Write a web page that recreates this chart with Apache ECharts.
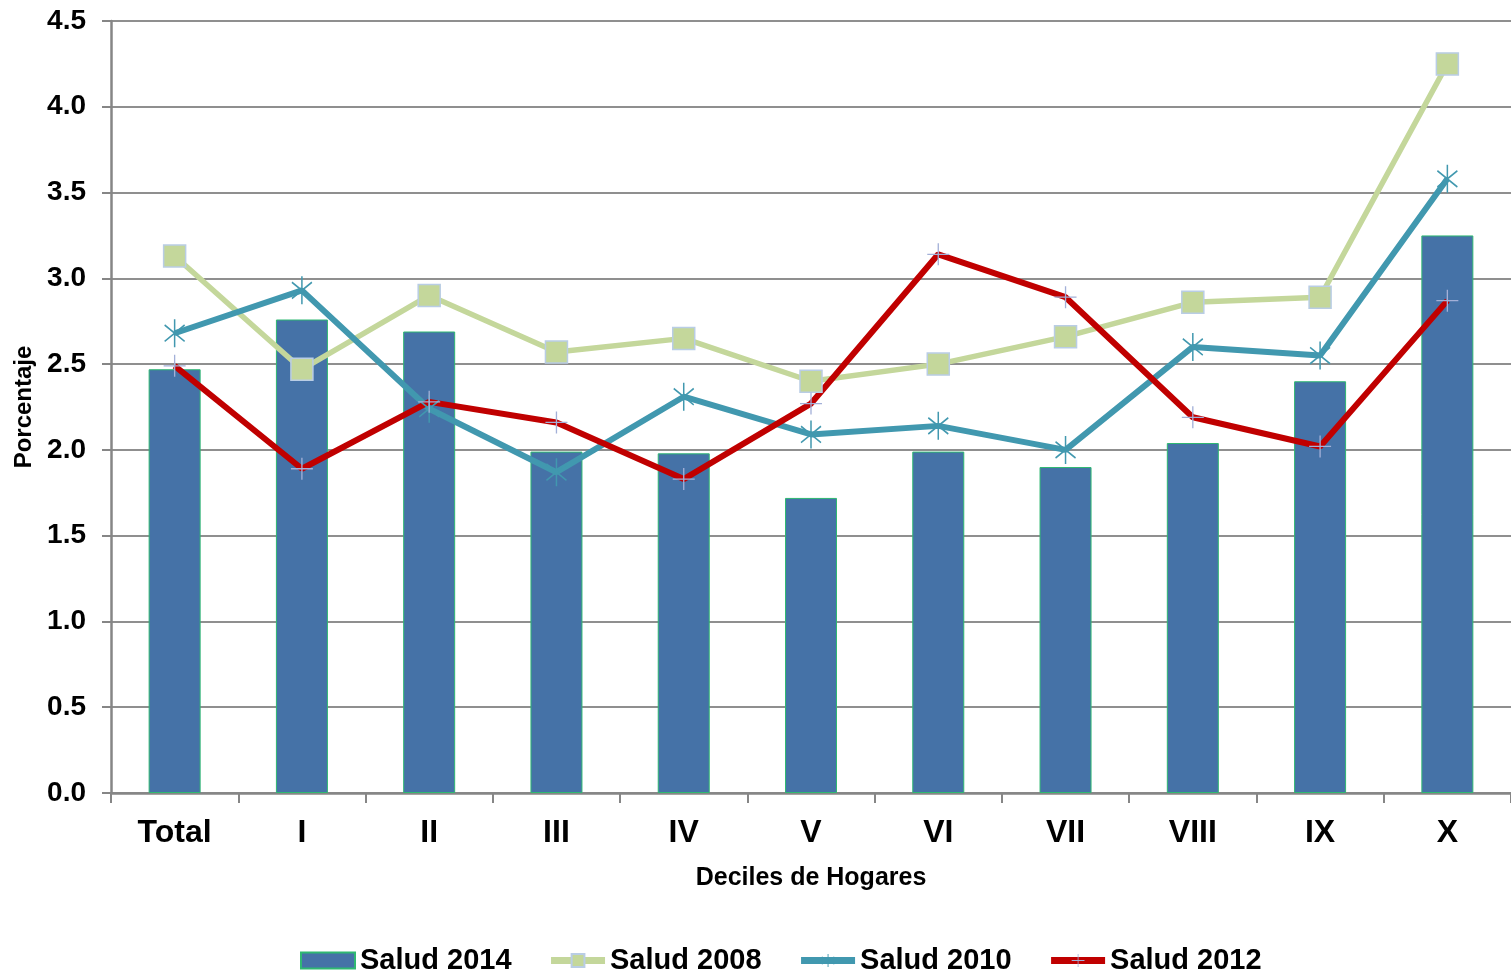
<!DOCTYPE html>
<html>
<head>
<meta charset="utf-8">
<script src="https://cdn.jsdelivr.net/npm/echarts@6/dist/echarts.min.js"></script>
<style>
  html, body { margin: 0; padding: 0; background: #fff; }
  #chart { width: 1511px; height: 973px; }
</style>
</head>
<body>
<div id="chart"></div>
<script>
const categories = ['Total', 'I', 'II', 'III', 'IV', 'V', 'VI', 'VII', 'VIII', 'IX', 'X']
const salud2014 = [2.47, 2.76, 2.69, 1.99, 1.98, 1.72, 1.99, 1.90, 2.04, 2.40, 3.25]
const salud2008 = [3.13, 2.47, 2.90, 2.57, 2.65, 2.40, 2.50, 2.66, 2.86, 2.89, 4.25]
const salud2010 = [2.68, 2.93, 2.24, 1.87, 2.31, 2.09, 2.14, 2.00, 2.60, 2.55, 3.58]
const salud2012 = [2.49, 1.89, 2.28, 2.16, 1.83, 2.27, 3.14, 2.89, 2.19, 2.02, 2.87]

const font = '"Liberation Sans", Arial, sans-serif'

// thin strokes as filled polygons, for the asterisk / plus markers
const strokeSymbol = (segs, w) => {
  return 'path://' + segs.map(([x1, y1, x2, y2]) => {
    const dx = x2 - x1, dy = y2 - y1
    const len = Math.hypot(dx, dy)
    const nx = (-dy / len) * w / 2, ny = (dx / len) * w / 2
    return `M${x1 + nx},${y1 + ny}L${x2 + nx},${y2 + ny}L${x2 - nx},${y2 - ny}L${x1 - nx},${y1 - ny}Z`
  }).join('')
}
const asterisk = strokeSymbol([[0, -12, 0, 12], [-10, -7, 10, 7], [-10, 7, 10, -7]], 1.5)
const plus = strokeSymbol([[0, -10, 0, 10], [-10, 0, 10, 0]], 1.2)

const chart = echarts.init(document.getElementById('chart'))

const option = {
  animation: false,
  textStyle: { fontFamily: font },
  grid: { left: 111, right: 0, top: 21, bottom: 180, outerBoundsMode: 'none', containLabel: false },
  legend: {
    left: 295,
    top: 941,
    itemWidth: 54,
    itemHeight: 16,
    itemGap: 36,
    textStyle: { fontFamily: font, fontSize: 29, fontWeight: 'bold', color: '#000' },
    data: [
      { name: 'Salud 2014', icon: 'rect' },
      { name: 'Salud 2008', lineStyle: { width: 7 } },
      { name: 'Salud 2010', lineStyle: { width: 7 } },
      { name: 'Salud 2012', lineStyle: { width: 7 } },
    ],
  },
  xAxis: {
    type: 'category',
    data: categories,
    name: 'Deciles de Hogares',
    nameLocation: 'middle',
    nameGap: 73,
    nameMoveOverlap: false,
    nameTextStyle: { fontFamily: font, fontSize: 25, fontWeight: 'bold', color: '#000' },
    axisLine: { lineStyle: { color: '#868686', width: 2.5 } },
    axisTick: { show: true, length: 10, lineStyle: { color: '#868686', width: 2 } },
    axisLabel: { fontFamily: font, fontSize: 32, fontWeight: 'bold', color: '#000', margin: 24 },
  },
  yAxis: {
    type: 'value',
    min: 0,
    max: 4.5,
    interval: 0.5,
    name: 'Porcentaje',
    nameLocation: 'middle',
    nameGap: 75,
    nameMoveOverlap: false,
    nameTextStyle: { fontFamily: font, fontSize: 24, fontWeight: 'bold', color: '#000' },
    axisLine: { show: true, lineStyle: { color: '#868686', width: 2.5 } },
    axisTick: { show: true, length: 9, lineStyle: { color: '#868686', width: 2 } },
    axisLabel: {
      fontFamily: font,
      fontSize: 28,
      fontWeight: 'bold',
      color: '#000',
      margin: 25,
      formatter: (v) => v.toFixed(1),
    },
    splitLine: { lineStyle: { color: '#8f8f8f', width: 2 } },
  },
  series: [
    {
      name: 'Salud 2014',
      type: 'bar',
      data: salud2014,
      barWidth: 52,
      itemStyle: { color: '#4572a7', borderColor: '#2fb872', borderWidth: 1 },
    },
    {
      name: 'Salud 2008',
      type: 'line',
      data: salud2008,
      symbol: 'rect',
      symbolSize: 22,
      lineStyle: { color: '#c4d79b', width: 5.5 },
      itemStyle: { color: '#c4d79b', borderColor: '#b9cde5', borderWidth: 1.5 },
    },
    {
      name: 'Salud 2010',
      type: 'line',
      data: salud2010,
      symbol: asterisk,
      symbolSize: [24, 28],
      symbolKeepAspect: true,
      lineStyle: { color: '#4198af', width: 6 },
      itemStyle: { color: '#4198af' },
    },
    {
      name: 'Salud 2012',
      type: 'line',
      data: salud2012,
      symbol: plus,
      symbolSize: 22,
      lineStyle: { color: '#c00000', width: 6 },
      itemStyle: { color: '#a3b0d8' },
    },
  ],
}

chart.setOption(option)
</script>
</body>
</html>
